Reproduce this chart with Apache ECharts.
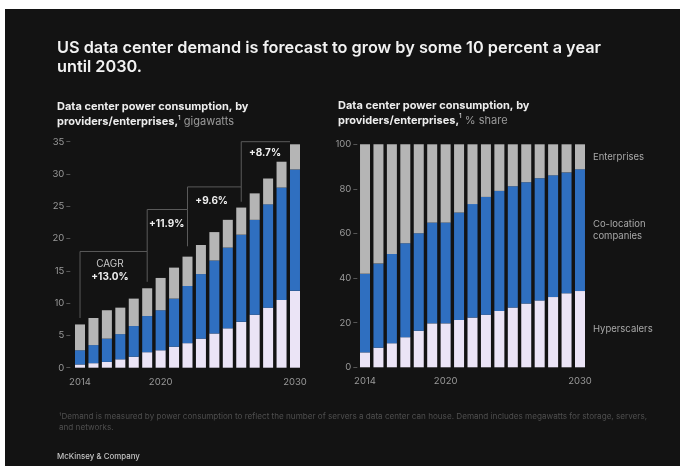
<!DOCTYPE html>
<html><head><meta charset="utf-8">
<script src="https://cdn.jsdelivr.net/npm/echarts@6/dist/echarts.min.js"></script>
<style>html,body{margin:0;padding:0;background:#fff}#c{width:680px;height:466px}</style>
</head><body><div id="c"></div>
<script>
// ---- data ----
const years = ['2014','2015','2016','2017','2018','2019','2020','2021','2022','2023','2024','2025','2026','2027','2028','2029','2030'];
const shownYears = ['2014','2020','2030'];
// gigawatts
const hyperscalersGW = [0.5, 0.7, 0.9, 1.3, 1.7, 2.4, 2.7, 3.25, 3.8, 4.5, 5.3, 6.1, 7.1, 8.2, 9.3, 10.5, 11.9];
const colocationGW   = [2.2, 2.8, 3.6, 3.9, 4.75, 5.6, 6.2, 7.45, 8.85, 10.0, 11.3, 12.5, 13.5, 14.7, 16.0, 17.4, 18.8];
const enterprisesGW  = [4.0, 4.2, 4.4, 4.1, 4.25, 4.3, 5.0, 4.8, 4.55, 4.5, 4.4, 4.3, 4.2, 4.1, 4.0, 4.0, 3.9];
// % share
const hyperscalersShare = [6.7, 8.8, 10.8, 13.5, 16.4, 19.7, 19.7, 21.2, 22.3, 23.6, 25.3, 26.8, 28.6, 30.0, 31.5, 33.2, 34.2];
const colocationShare   = [35.2, 37.7, 40.0, 42.1, 43.7, 45.2, 45.2, 48.2, 50.9, 52.8, 53.8, 54.4, 54.4, 54.8, 54.6, 54.2, 54.6];
const enterprisesShare  = [58.1, 53.5, 49.2, 44.4, 39.9, 35.1, 35.1, 30.6, 26.8, 23.6, 20.9, 18.8, 17.0, 15.2, 13.9, 12.6, 11.2];
const gwAxis = {max: 35, interval: 5};
const shareAxis = {max: 100, interval: 20};
const cagrLabels = ['+13.0%', '+11.9%', '+9.6%', '+8.7%'];
const cagrPeriods = [['2014','2019'], ['2019','2022'], ['2022','2026'], ['2026','2030']];

// ---- layout ----
const FONT = 'Inter, "Noto Sans", sans-serif';
const C_HYPER = '#ebe4f6', C_COLO = '#2f6fc0', C_ENT = '#b5b5b5';
// bracket geometry in data units
const bracketGeo = [
  {lb: 7.7, top: 18.0, rb: 13.3, labelX: 2.23, labelY: 14.0, titleY: 16.05},
  {lb: 18.0, top: 24.5, rb: 18.8, labelX: 6.45, labelY: 22.2},
  {lb: 24.5, top: 28.0, rb: 25.7, labelX: 9.8, labelY: 25.8},
  {lb: 28.0, top: 35.0, rb: 35.0, rightX: 15.63, labelX: 13.77, labelY: 33.2}
];

function lastLabel(arr, text, extra) {
  return arr.map((v, i) => i === arr.length - 1 ? {
    value: v,
    label: Object.assign({show: true, position: 'right', distance: 8, formatter: text,
      color: '#a8a8a8', fontSize: 9.5, fontFamily: FONT, lineHeight: 12}, extra || {})
  } : v);
}

function coordAt(api, idx, v) {
  const i = Math.min(Math.floor(idx), years.length - 2), f = idx - i;
  const a = api.coord([i, v]), b = api.coord([i + 1, v]);
  return [a[0] + (b[0] - a[0]) * f, a[1]];
}

const chart = echarts.init(document.getElementById('c'), null, {renderer: 'canvas'});
const xLabelCommon = {
  color: '#9a9a9a', fontSize: 9.5, fontFamily: FONT, margin: 9,
  interval: (i, v) => shownYears.indexOf(v) >= 0
};
const yCommon = {
  type: 'value', min: 0,
  axisLine: {show: false}, splitLine: {show: false},
  axisTick: {show: true, length: 4, lineStyle: {color: '#555'}},
  axisLabel: {color: '#9a9a9a', fontSize: 9.5, fontFamily: FONT, margin: 6}
};
const subRich = {
  b: {color: '#ededed', fontSize: 11, fontWeight: 700, fontFamily: FONT, lineHeight: 15},
  s: {color: '#ededed', fontSize: 6.5, fontWeight: 400, fontFamily: FONT, verticalAlign: 'top', lineHeight: 15},
  g: {color: '#9a9a9a', fontSize: 11, fontWeight: 400, fontFamily: FONT, lineHeight: 15}
};

const option = {
  backgroundColor: '#131313',
  animation: false,
  title: [
    {text: 'US data center demand is forecast to grow by some 10 percent a year\nuntil 2030.',
     left: 52, top: 33.5,
     textStyle: {color: '#f2f2f2', fontSize: 16.3, fontWeight: 600, lineHeight: 19, fontFamily: FONT}},
    {text: '{b|Data center power consumption, by}\n{b|providers/enterprises,}{s|1}{g| gigawatts}',
     left: 52, top: 94.5, textStyle: {fontWeight: 400, rich: subRich}},
    {text: '{b|Data center power consumption, by}\n{b|providers/enterprises,}{s|1}{g| % share}',
     left: 333, top: 93, textStyle: {fontWeight: 400, rich: subRich}},
    {text: '¹Demand is measured by power consumption to reflect the number of servers a data center can house. Demand includes megawatts for storage, servers,\nand networks.',
     left: 54, top: 406.5,
     textStyle: {color: '#4f4f4f', fontSize: 8.15, fontWeight: 400, lineHeight: 10.5, fontFamily: FONT}},
    {text: 'McKinsey & Company', left: 52, top: 447.5,
     textStyle: {color: '#c4c4c4', fontSize: 7.9, fontWeight: 500, fontFamily: FONT}}
  ],
  graphic: [
    {type: 'rect', left: 0, top: 0, shape: {width: 680, height: 9}, style: {fill: '#ffffff'}, z: 100},
    {type: 'rect', left: 0, top: 0, shape: {width: 5, height: 466}, style: {fill: '#ffffff'}, z: 100}
  ],
  grid: [
    {left: 73.3, top: 141.7, width: 228.4, height: 226},
    {left: 358.3, top: 144.3, width: 228.4, height: 223}
  ],
  xAxis: [
    {type: 'category', gridIndex: 0, data: years, axisLine: {show: false}, axisTick: {show: false}, axisLabel: xLabelCommon},
    {type: 'category', gridIndex: 1, data: years, axisLine: {show: false}, axisTick: {show: false}, axisLabel: xLabelCommon}
  ],
  yAxis: [
    Object.assign({}, yCommon, {gridIndex: 0, max: gwAxis.max, interval: gwAxis.interval, offset: 3}),
    Object.assign({}, yCommon, {gridIndex: 1, max: shareAxis.max, interval: shareAxis.interval, offset: 1})
  ],
  series: [
    {name: 'Hyperscalers', type: 'bar', stack: 'gw', xAxisIndex: 0, yAxisIndex: 0, barWidth: 10, data: hyperscalersGW, itemStyle: {color: C_HYPER}},
    {name: 'Co-location companies', type: 'bar', stack: 'gw', xAxisIndex: 0, yAxisIndex: 0, barWidth: 10, data: colocationGW, itemStyle: {color: C_COLO}},
    {name: 'Enterprises', type: 'bar', stack: 'gw', xAxisIndex: 0, yAxisIndex: 0, barWidth: 10, data: enterprisesGW, itemStyle: {color: C_ENT}},
    {name: 'Hyperscalers', type: 'bar', stack: 'share', xAxisIndex: 1, yAxisIndex: 1, barWidth: 10,
     data: lastLabel(hyperscalersShare, 'Hyperscalers'), itemStyle: {color: C_HYPER}},
    {name: 'Co-location companies', type: 'bar', stack: 'share', xAxisIndex: 1, yAxisIndex: 1, barWidth: 10,
     data: lastLabel(colocationShare, 'Co-location\ncompanies'), itemStyle: {color: C_COLO}},
    {name: 'Enterprises', type: 'bar', stack: 'share', xAxisIndex: 1, yAxisIndex: 1, barWidth: 10,
     data: lastLabel(enterprisesShare, 'Enterprises'), itemStyle: {color: C_ENT}},
    {
      type: 'custom', xAxisIndex: 0, yAxisIndex: 0, silent: true, clip: false, z: 10,
      data: [0],
      renderItem: function (params, api) {
        const children = [];
        cagrPeriods.forEach((p, k) => {
          const g = bracketGeo[k];
          const li = years.indexOf(p[0]);
          const ri = g.rightX !== undefined ? g.rightX : years.indexOf(p[1]);
          const pts = [coordAt(api, li, g.lb), coordAt(api, li, g.top), coordAt(api, ri, g.top), coordAt(api, ri, g.rb)];
          children.push({type: 'polyline', shape: {points: pts}, style: {stroke: '#5a5a5a', lineWidth: 1, fill: null}});
          const lp = coordAt(api, g.labelX, g.labelY);
          children.push({type: 'text', style: {text: cagrLabels[k], x: lp[0], y: lp[1], fill: '#f0f0f0',
            fontSize: 10, fontWeight: 700, fontFamily: FONT, align: 'center', verticalAlign: 'middle'}});
          if (g.titleY !== undefined) {
            const tp = coordAt(api, g.labelX, g.titleY);
            children.push({type: 'text', style: {text: 'CAGR', x: tp[0], y: tp[1], fill: '#c8c8c8',
              fontSize: 10, fontWeight: 400, fontFamily: FONT, align: 'center', verticalAlign: 'middle'}});
          }
        });
        return {type: 'group', children: children};
      }
    }
  ]
};
chart.setOption(option);
</script></body></html>
